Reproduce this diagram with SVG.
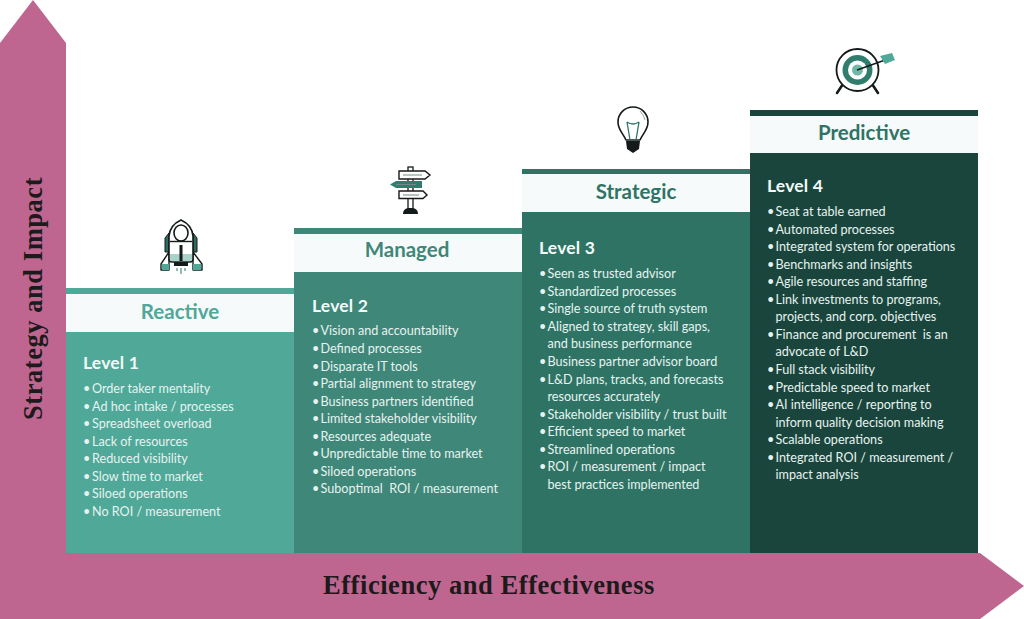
<svg xmlns="http://www.w3.org/2000/svg" width="1024" height="619" viewBox="0 0 1024 619">
<style>
text{font-family:"Lato","Open Sans","Liberation Sans",sans-serif}
.t{font-size:20.500px;font-weight:700;text-anchor:middle}
.l{font-size:17.500px;font-weight:700;fill:#f4faf8;letter-spacing:.2px}
.i{font-size:12.600px;fill:#e6f3f0;white-space:pre}
.w{fill:#f6fafa}
.ax{font-family:"Liberation Serif",serif;font-size:26.500px;font-weight:700;fill:#1d1a1c;letter-spacing:.55px}
.k{fill:none;stroke:#141a19;stroke-width:1.600;stroke-linejoin:round;stroke-linecap:round}
</style>
<rect width="1024" height="619" fill="#fff"/>
<g id="axes">
<polygon points="33,0 66,43 66,553 980,553 1024,586 980,619 0,619 0,43" fill="#bf6690"/>
<text class="ax" transform="translate(42,420) rotate(-90)">Strategy and Impact</text>
<text class="ax" x="323" y="594">Efficiency and Effectiveness</text>
</g>
<g id="level1">
<rect x="66" y="288" width="228" height="6" fill="#4fa898"/><rect class="w" x="66" y="294" width="228" height="38"/><rect x="66" y="332" width="228" height="221" fill="#4fa898"/>
<text class="t" x="180" y="319" fill="#4fa898">Reactive</text>
<text class="l" x="83" y="369">Level 1</text>
<text class="i" x="83" y="393">•<tspan x="92">Order taker mentality</tspan></text>
<text class="i" x="83" y="410.500">•<tspan x="92">Ad hoc intake / processes</tspan></text>
<text class="i" x="83" y="428">•<tspan x="92">Spreadsheet overload</tspan></text>
<text class="i" x="83" y="445.500">•<tspan x="92">Lack of resources</tspan></text>
<text class="i" x="83" y="463">•<tspan x="92">Reduced visibility</tspan></text>
<text class="i" x="83" y="480.500">•<tspan x="92">Slow time to market</tspan></text>
<text class="i" x="83" y="498">•<tspan x="92">Siloed operations</tspan></text>
<text class="i" x="83" y="515.500">•<tspan x="92">No ROI / measurement</tspan></text>
<g id="rocket">
<path d="M169 252 L161 264 V270 H169Z M193 252 L202 264 V270 H193Z" fill="#fff" stroke="#141a19" stroke-width="1.400" stroke-linejoin="round"/>
<path d="M162 264 H169 V270 H162Z M193 264 H201 V270 H193Z" fill="#4fa898"/>
<path d="M169 233 L165 238 V252 H169Z M193 233 L197 238 V252 H193Z" fill="#2f6d60" stroke="#141a19" stroke-width="1"/>
<path d="M169 259 V236 Q170 225 181 220 Q192 225 193 236 V259 Q193 262 190 262 H172 Q169 262 169 259Z" fill="#fff" stroke="#141a19" stroke-width="1.600"/>
<ellipse class="k" cx="181" cy="233" rx="7" ry="8"/>
<path d="M170 241.500 H192" stroke="#141a19" stroke-width="1.400"/>
<path d="M170 254 H192 V259 Q192 261 190 261 H172 Q170 261 170 259Z" fill="#a9d3ca"/>
<rect x="179.500" y="245" width="3" height="16" fill="#141a19"/>
<rect x="174" y="262" width="14" height="4" fill="#141a19"/>
<path d="M177 268 V271 M181 268 V274 M185 268 V271" stroke="#4a8f80" stroke-width="1.200"/>
</g>
</g>
<g id="level2">
<rect x="294" y="228" width="228" height="6" fill="#3f8778"/><rect class="w" x="294" y="234" width="228" height="38"/><rect x="294" y="272" width="228" height="281" fill="#3f8778"/>
<text class="t" x="407" y="257" fill="#3f8778">Managed</text>
<text class="l" x="312" y="312">Level 2</text>
<text class="i" x="312" y="335">•<tspan x="320.500">Vision and accountability</tspan></text>
<text class="i" x="312" y="353">•<tspan x="320.500">Defined processes</tspan></text>
<text class="i" x="312" y="370.500">•<tspan x="320.500">Disparate IT tools</tspan></text>
<text class="i" x="312" y="388">•<tspan x="320.500">Partial alignment to strategy</tspan></text>
<text class="i" x="312" y="405.500">•<tspan x="320.500">Business partners identified</tspan></text>
<text class="i" x="312" y="423">•<tspan x="320.500">Limited stakeholder visibility</tspan></text>
<text class="i" x="312" y="440.500">•<tspan x="320.500">Resources adequate</tspan></text>
<text class="i" x="312" y="458">•<tspan x="320.500">Unpredictable time to market</tspan></text>
<text class="i" x="312" y="475.500">•<tspan x="320.500">Siloed operations</tspan></text>
<text class="i" x="312" y="493">•<tspan x="320.500">Suboptimal  ROI / measurement</tspan></text>
<g id="signpost">
<rect x="408" y="167" width="5" height="44" fill="#fff" stroke="#141a19" stroke-width="1.300"/>
<path d="M399 171 H425 L430 175 L425 179 H399Z" fill="#fff" stroke="#141a19" stroke-width="1.400"/>
<path d="M422 181 H396 L390 184.500 L396 188 H422Z" fill="#2f7d6c"/>
<path d="M399 191 H423 L427 195 L423 198.500 H399Z" fill="#fff" stroke="#141a19" stroke-width="1.400"/>
<path d="M403 214 Q403 209 408 208 H413 Q418 209 418 214Z" fill="#141a19"/>
<path d="M403 175 H422 M396 184.500 H416 M403 195 H419" stroke="#6f8a85" stroke-width="1"/>
</g>
</g>
<g id="level3">
<rect x="522" y="169" width="228" height="5" fill="#2f7365"/><rect class="w" x="522" y="174" width="228" height="38"/><rect x="522" y="212" width="228" height="341" fill="#2f7365"/>
<text class="t" x="636" y="199" fill="#2f7365">Strategic</text>
<text class="l" x="539" y="254">Level 3</text>
<text class="i" x="539" y="278">•<tspan x="547.500">Seen as trusted advisor</tspan></text>
<text class="i" x="539" y="295.500">•<tspan x="547.500">Standardized processes</tspan></text>
<text class="i" x="539" y="313">•<tspan x="547.500">Single source of truth system</tspan></text>
<text class="i" x="539" y="331">•<tspan x="547.500">Aligned to strategy, skill gaps,</tspan></text>
<text class="i" x="547.500" y="348">and business performance</text>
<text class="i" x="539" y="366">•<tspan x="547.500">Business partner advisor board</tspan></text>
<text class="i" x="539" y="383.500">•<tspan x="547.500">L&amp;D plans, tracks, and forecasts</tspan></text>
<text class="i" x="547.500" y="401">resources accurately</text>
<text class="i" x="539" y="418.500">•<tspan x="547.500">Stakeholder visibility / trust built</tspan></text>
<text class="i" x="539" y="436">•<tspan x="547.500">Efficient speed to market</tspan></text>
<text class="i" x="539" y="453.500">•<tspan x="547.500">Streamlined operations</tspan></text>
<text class="i" x="539" y="471">•<tspan x="547.500">ROI / measurement / impact</tspan></text>
<text class="i" x="547.500" y="488.500">best practices implemented</text>
<g id="bulb">
<path class="k" d="M626 140 C623 133 618 130 618 122 A15 15 0 1 1 648 122 C648 130 643 133 640 140Z"/>
<path d="M627 122 L630 140 M639 122 L636 140 M627 122 Q633 126 639 122" fill="none" stroke="#2f7365" stroke-width="1.300"/>
<path d="M640 111 Q644 115 645 120" fill="none" stroke="#8aa5a0" stroke-width="1"/>
<path d="M626 141 H640 L639 149 L633 153 L627 149Z" fill="#141a19"/>
</g>
</g>
<g id="level4">
<rect x="750" y="110" width="228" height="6" fill="#1a453c"/><rect class="w" x="750" y="116" width="228" height="37"/><rect x="750" y="153" width="228" height="400" fill="#1a453c"/>
<text class="t" x="864" y="140" fill="#2f7365">Predictive</text>
<text class="l" x="767" y="192">Level 4</text>
<text class="i" x="767" y="216">•<tspan x="775.500">Seat at table earned</tspan></text>
<text class="i" x="767" y="233.500">•<tspan x="775.500">Automated processes</tspan></text>
<text class="i" x="767" y="251">•<tspan x="775.500">Integrated system for operations</tspan></text>
<text class="i" x="767" y="268.500">•<tspan x="775.500">Benchmarks and insights</tspan></text>
<text class="i" x="767" y="286">•<tspan x="775.500">Agile resources and staffing</tspan></text>
<text class="i" x="767" y="303.500">•<tspan x="775.500">Link investments to programs,</tspan></text>
<text class="i" x="775.500" y="321">projects, and corp. objectives</text>
<text class="i" x="767" y="339">•<tspan x="775.500">Finance and procurement  is an</tspan></text>
<text class="i" x="775.500" y="356">advocate of L&amp;D</text>
<text class="i" x="767" y="374">•<tspan x="775.500">Full stack visibility</tspan></text>
<text class="i" x="767" y="391.500">•<tspan x="775.500">Predictable speed to market</tspan></text>
<text class="i" x="767" y="409">•<tspan x="775.500">AI intelligence / reporting to</tspan></text>
<text class="i" x="775.500" y="426.500">inform quality decision making</text>
<text class="i" x="767" y="444">•<tspan x="775.500">Scalable operations</tspan></text>
<text class="i" x="767" y="461.500">•<tspan x="775.500">Integrated ROI / measurement /</tspan></text>
<text class="i" x="775.500" y="479">impact analysis</text>
<g id="target">
<path d="M843 84 L837 93 M872 84 L878 93" stroke="#141a19" stroke-width="2.600" stroke-linecap="round"/>
<circle cx="857.500" cy="70" r="21" fill="#fff" stroke="#141a19" stroke-width="1.800"/>
<circle cx="857.500" cy="70" r="15" fill="#2f7d6c"/>
<circle cx="857.500" cy="70" r="9.500" fill="#fff"/>
<circle cx="857.500" cy="70" r="5.500" fill="#6fb8a8"/>
<path d="M857 70 L888 59" stroke="#141a19" stroke-width="1.400"/>
<path d="M880 56 L892 53 L895 60 L885 64Z" fill="#4fa898"/>
</g>
</g>
</svg>
